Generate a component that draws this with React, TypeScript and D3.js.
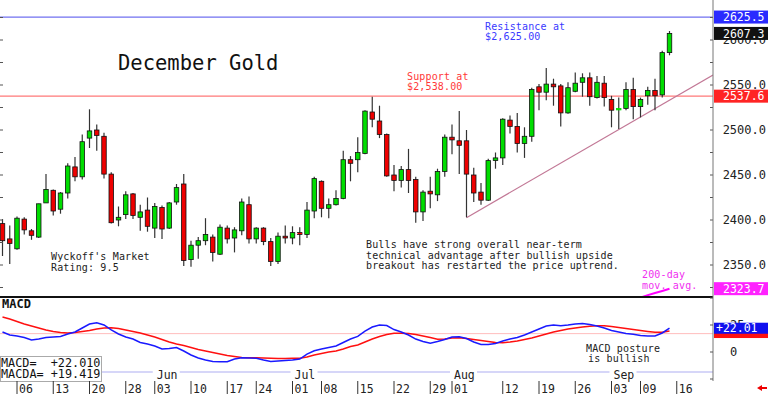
import React from 'react';
import * as d3 from 'd3';

// trading days, index 0 = May 2 2024, last = Sep 13 2024
const opens = [2396, 2379, 2368, 2401, 2388, 2381, 2419, 2433, 2412, 2430, 2459, 2448, 2491, 2500, 2493, 2451, 2400, 2406, 2429, 2403, 2411, 2391, 2414, 2391, 2420, 2440, 2356, 2372, 2377, 2381, 2362, 2391, 2380, 2388, 2417, 2379, 2391, 2376, 2354, 2382, 2380, 2386, 2384, 2410, 2443, 2413, 2417, 2424, 2467, 2467, 2474, 2520, 2510, 2495, 2450, 2444, 2456, 2445, 2409, 2432, 2428, 2454, 2492, 2488, 2488, 2450, 2431, 2422, 2466, 2469, 2511, 2504, 2485, 2493, 2548, 2542, 2551, 2549, 2519, 2543, 2553, 2558, 2536, 2552, 2534, 2523, 2524, 2545, 2526, 2538, 2544, 2539, 2586];
const highs = [2401, 2394, 2404, 2403, 2390, 2418, 2451, 2434, 2431, 2463, 2470, 2495, 2523, 2506, 2497, 2453, 2415, 2432, 2430, 2417, 2425, 2419, 2416, 2420, 2440, 2451, 2377, 2381, 2402, 2384, 2395, 2394, 2392, 2424, 2426, 2392, 2392, 2380, 2386, 2394, 2393, 2392, 2420, 2448, 2444, 2424, 2433, 2477, 2471, 2492, 2522, 2537, 2527, 2496, 2461, 2460, 2479, 2448, 2433, 2448, 2457, 2495, 2506, 2521, 2500, 2458, 2441, 2468, 2475, 2513, 2516, 2519, 2503, 2547, 2551, 2569, 2557, 2551, 2553, 2564, 2563, 2564, 2560, 2560, 2538, 2536, 2553, 2558, 2536, 2548, 2557, 2588, 2610];
const lows = [2360, 2351, 2367, 2384, 2378, 2380, 2419, 2405, 2407, 2424, 2443, 2445, 2480, 2477, 2446, 2396, 2393, 2401, 2401, 2388, 2387, 2380, 2379, 2390, 2417, 2349, 2348, 2357, 2372, 2354, 2361, 2374, 2364, 2383, 2374, 2374, 2372, 2349, 2351, 2374, 2373, 2372, 2380, 2402, 2403, 2402, 2416, 2423, 2443, 2453, 2473, 2503, 2491, 2448, 2432, 2436, 2430, 2397, 2399, 2413, 2421, 2448, 2473, 2451, 2403, 2420, 2417, 2421, 2457, 2461, 2496, 2475, 2469, 2487, 2522, 2533, 2527, 2504, 2518, 2542, 2537, 2527, 2535, 2526, 2503, 2501, 2522, 2512, 2514, 2528, 2522, 2536, 2583];
const closes = [2377, 2374, 2402, 2389, 2383, 2418, 2434, 2410, 2430, 2460, 2448, 2487, 2499, 2494, 2451, 2397, 2403, 2428, 2405, 2409, 2393, 2415, 2390, 2419, 2436, 2355, 2372, 2377, 2384, 2364, 2392, 2379, 2389, 2420, 2379, 2391, 2376, 2354, 2382, 2380, 2386, 2384, 2411, 2446, 2413, 2417, 2424, 2467, 2463, 2475, 2521, 2512, 2495, 2449, 2444, 2456, 2444, 2409, 2431, 2429, 2454, 2492, 2489, 2483, 2451, 2430, 2422, 2466, 2469, 2512, 2504, 2485, 2493, 2545, 2542, 2551, 2548, 2519, 2547, 2552, 2558, 2537, 2553, 2536, 2522, 2524, 2545, 2526, 2534, 2544, 2538, 2586, 2607.3];

const macd = [18.5, 15.7, 14.8, 13.4, 11.1, 12.0, 13.4, 13.9, 14.4, 16.7, 18.5, 22.2, 25.9, 27.1, 25.0, 20.4, 16.7, 13.9, 12.0, 8.8, 7.4, 5.6, 2.8, 3.2, 4.2, 0.9, -2.8, -5.6, -7.4, -8.8, -9.0, -9.0, -6.5, -5.3, -5.6, -5.8, -7.4, -8.8, -8.3, -7.9, -7.4, -6.5, -1.9, 1.2, 2.8, 4.2, 5.6, 8.8, 12.0, 14.4, 19.4, 23.1, 25.0, 24.5, 20.8, 18.5, 15.7, 12.0, 9.7, 8.1, 9.7, 11.6, 13.9, 14.2, 12.5, 9.3, 6.9, 6.9, 7.9, 10.2, 12.0, 13.4, 15.7, 18.5, 21.3, 24.1, 25.0, 24.4, 25.0, 25.9, 26.4, 25.5, 24.1, 22.2, 19.9, 18.5, 17.1, 16.4, 15.3, 14.8, 14.8, 17.6, 22.01];
const macdAvg = [32.4, 30.6, 28.2, 25.9, 24.1, 22.2, 20.4, 19.0, 18.1, 17.6, 18.1, 19.0, 19.9, 21.3, 22.2, 22.5, 21.8, 20.4, 19.0, 17.6, 15.7, 13.9, 11.6, 9.3, 7.4, 6.0, 4.2, 2.3, 0.9, -0.5, -1.9, -3.2, -4.2, -5.1, -5.3, -5.3, -5.6, -5.8, -6.0, -6.0, -5.8, -5.8, -4.6, -2.8, -1.4, 0, 0.9, 2.8, 5.1, 6.5, 9.3, 12.0, 14.4, 16.2, 17.3, 17.3, 17.1, 16.2, 14.8, 13.4, 11.8, 12.0, 13.0, 13.2, 12.5, 11.6, 10.6, 9.7, 8.8, 8.6, 9.3, 10.2, 11.6, 13.0, 14.8, 16.7, 18.5, 19.9, 21.3, 22.2, 23.1, 23.9, 24.3, 24.4, 23.6, 22.7, 21.8, 20.8, 19.9, 19.0, 18.2, 18.2, 19.419];

const ma200Start = 84;
const ma200 = [2302.5, 2305.3, 2308.2, 2311.0, 2313.8, 2316.5, 2318.8, 2321.2, 2323.7];

const dayTicks: [number, string][] = [
  [2, '06'], [7, '13'], [12, '20'], [17, '28'], [21, '03'], [26, '10'], [31, '17'], [35, '24'],
  [40, '01'], [44, '08'], [49, '15'], [54, '22'], [59, '29'], [62, '01'], [69, '12'], [74, '19'],
  [79, '26'], [84, '03'], [88, '09'], [93, '16'],
];
const monthTicks: [number, string][] = [[21, 'Jun'], [40, 'Jul'], [62, 'Aug'], [84, 'Sep']];
const priceLabels = [2350, 2400, 2450, 2500, 2550, 2600];
const priceMinor = [2325, 2350, 2375, 2400, 2425, 2450, 2475, 2500, 2525, 2550, 2575, 2600, 2625];
const macdLabels = [0, 25];

const resistance = 2625.5;
const support = 2537.6;
const macdRef = 17;
const trend: [number, number][] = [[64, 2402.6], [98, 2561]];

const mono = "'DejaVu Sans Mono', monospace";

export default function App() {
  const axisX = 713;
  const x = d3.scaleLinear().domain([-0.345, 98]).range([0, axisX]);
  const y = d3.scaleLinear().domain([2350, 2600]).range([265, 40]);
  const yM = d3.scaleLinear().domain([0, 25]).range([352, 325]);

  const macdLine = d3.line<number>().x((d, i) => x(i)).y(d => yM(d));
  const maLine = d3.line<number>().x((d, i) => x(ma200Start + i)).y(d => y(d));
  const trendPath = d3.line<[number, number]>().x(d => x(d[0])).y(d => y(d[1]));

  const last = closes[closes.length - 1];
  const lastMA = ma200[ma200.length - 1];
  const lastMacd = macd[macd.length - 1];
  const lastAvg = macdAvg[macdAvg.length - 1];

  const note = { fontFamily: mono, fontSize: 10, letterSpacing: 0.15 } as const;

  const tag = (cy: number, bg: string, label: string, tx = 723, h = 13) => (
    <g>
      <rect x={714} y={cy - h / 2} width={54} height={h} fill={bg} />
      <text x={tx} y={cy + 4.1} fill="#fff" fontFamily={mono} fontSize={11.5}>{label}</text>
    </g>
  );

  return (
    <svg width={768} height={394} style={{ position: 'absolute', left: 0, top: 0, background: '#fff' }}>
      <defs>
        <clipPath id="pclip"><rect x={0} y={0} width={axisX} height={296} /></clipPath>
        <clipPath id="mclip"><rect x={0} y={298} width={axisX} height={83} /></clipPath>
      </defs>

      {/* price panel */}
      <g clipPath="url(#pclip)">
        <line x1={0} x2={axisX} y1={y(resistance)} y2={y(resistance)} stroke="#7070f0" strokeWidth={1.2} />
        <line x1={0} x2={axisX} y1={y(support)} y2={y(support)} stroke="#ff7878" strokeWidth={1.2} />
        <path d={trendPath(trend) || ''} fill="none" stroke="#c27896" strokeWidth={1.2} />
        <path d={maLine(ma200) || ''} fill="none" stroke="#ff00ff" strokeWidth={2} />
        {closes.map((c, i) => {
          const o = opens[i];
          const up = c >= o;
          const col = up ? '#00dd00' : '#ee0000';
          const top = y(Math.max(o, c));
          const bh = Math.max(1.5, Math.abs(y(o) - y(c)));
          const doji = Math.abs(o - c) < 2;
          return (
            <g key={i}>
              <line x1={x(i)} x2={x(i)} y1={y(highs[i])} y2={y(lows[i])} stroke="#333" strokeWidth={1.2} />
              <rect x={x(i) - 2.25} y={top} width={4.5} height={bh} fill={col}
                stroke={doji ? col : '#111'} strokeWidth={0.8} />
            </g>
          );
        })}
      </g>

      {priceMinor.map(v => (
        <g key={v}>
          <line x1={0} x2={3} y1={y(v)} y2={y(v)} stroke="#555" />
          <line x1={axisX - 3} x2={axisX} y1={y(v)} y2={y(v)} stroke="#555" />
        </g>
      ))}

      <text x={118} y={70} fontFamily={mono} fontSize={20.5} fill="#111">December Gold</text>
      <text x={485} y={29.5} {...note} fill="#3a3aff">Resistance at</text>
      <text x={485} y={39.5} {...note} fill="#3a3aff">$2,625.00</text>
      <text x={407} y={80} {...note} fill="#ff3838">Support at</text>
      <text x={407} y={90} {...note} fill="#ff3838">$2,538.00</text>
      <text x={51} y={260} {...note} fill="#222">Wyckoff's Market</text>
      <text x={51} y={270.7} {...note} fill="#222">Rating: 9.5</text>
      <text x={366} y={248.3} {...note} fill="#222">Bulls have strong overall near-term</text>
      <text x={366} y={258.6} {...note} fill="#222">technical advantage after bullish upside</text>
      <text x={366} y={269} {...note} fill="#222">breakout has restarted the price uptrend.</text>
      <text x={642} y={278.3} {...note} fill="#f030f0">200-day</text>
      <text x={642} y={288.5} {...note} fill="#f030f0">mov. avg.</text>

      {/* panel separator */}
      <line x1={0} x2={axisX} y1={297} y2={297} stroke="#111" strokeWidth={1.8} />

      {/* MACD panel */}
      <text x={2} y={308.3} fontFamily={mono} fontSize={12} fontWeight="bold" fill="#111">MACD</text>
      <line x1={0} x2={axisX} y1={yM(macdRef)} y2={yM(macdRef)} stroke="#ffbcbc" strokeWidth={1} />
      <line x1={0} x2={axisX} y1={372} y2={372} stroke="#c8c8f6" strokeWidth={1.5} />
      <g clipPath="url(#mclip)">
        <path d={macdLine(macdAvg) || ''} fill="none" stroke="#ff1010" strokeWidth={1.5} />
        <path d={macdLine(macd) || ''} fill="none" stroke="#1a1aff" strokeWidth={1.5} />
      </g>
      <text x={586} y={351.7} {...note} fill="#222">MACD posture</text>
      <text x={588} y={361.8} {...note} fill="#222">is bullish</text>

      <rect x={0.5} y={356.5} width={101} height={25} fill="#fff" stroke="#aaa" />
      <text x={1} y={366.8} fontFamily={mono} fontSize={11.8} fill="#111" style={{ whiteSpace: 'pre' }}>
        {'MACD=  +' + lastMacd.toFixed(3)}
      </text>
      <text x={1} y={378.4} fontFamily={mono} fontSize={11.8} fill="#111" style={{ whiteSpace: 'pre' }}>
        {'MACDA= +' + lastAvg.toFixed(3)}
      </text>

      {monthTicks.map(([i, m]) => (
        <g key={m}>
          <rect x={x(i) - 2} y={366} width={27} height={13} fill="#fff" />
          <text x={x(i) + 2} y={378.5} fontFamily={mono} fontSize={11.5} fill="#222">{m}</text>
        </g>
      ))}

      {dayTicks.map(([i, d]) => (
        <g key={i + d}>
          <line x1={x(i)} x2={x(i)} y1={381} y2={394} stroke="#333" strokeWidth={1} />
          <text x={x(i) + 2} y={392.5} fontFamily={mono} fontSize={11.5} fill="#222">{d}</text>
        </g>
      ))}

      {/* right axis */}
      <line x1={axisX} x2={axisX} y1={0} y2={381} stroke="#777" strokeWidth={1} />
      {[-25, 0, 25, 50].map(v => (
        <line key={v} x1={axisX - 3} x2={axisX} y1={yM(v)} y2={yM(v)} stroke="#555" />
      ))}
      {priceLabels.map(v => (
        <text key={v} x={766} y={y(v) + 4.2} textAnchor="end" fontFamily={mono} fontSize={12} fill="#222">
          {v.toFixed(1)}
        </text>
      ))}
      {macdLabels.map(v => (
        <text key={v} x={730} y={yM(v) + 4} fontFamily={mono} fontSize={12} fill="#222">{v}</text>
      ))}

      {tag(y(resistance), '#2a2aff', resistance.toFixed(1))}
      {tag(y(last), '#111', last.toFixed(1))}
      {tag(y(support), '#ff2424', support.toFixed(1))}
      {tag(y(lastMA), '#ff22ff', lastMA.toFixed(1))}
      {tag(yM(lastAvg) + 1.5, '#ff1010', '', 723, 11)}
      {tag(yM(lastMacd), '#1010ee', '+' + lastMacd.toFixed(2), 716, 11)}

      <path d="M757,388 L762,385 L762,387 L767,387 L767,389 L762,389 L762,391 Z" fill="#ee0000" />
    </svg>
  );
}
